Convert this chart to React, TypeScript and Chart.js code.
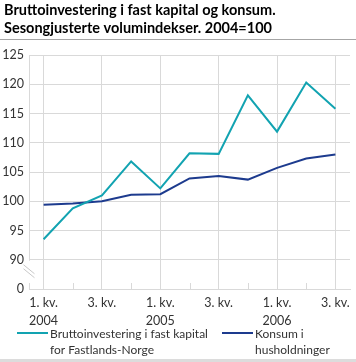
import React, { useEffect, useRef } from 'react';
import { Chart, registerables } from 'chart.js';

Chart.register(...registerables);

const categories = ['2004K1', '2004K2', '2004K3', '2004K4', '2005K1', '2005K2', '2005K3', '2005K4', '2006K1', '2006K2', '2006K3'];
const quarterLabels = ['1. kv.', '', '3. kv.', '', '1. kv.', '', '3. kv.', '', '1. kv.', '', '3. kv.'];
const yearLabels = ['2004', '', '', '', '2005', '', '', '', '2006', '', ''];
const brutto = [93.5, 98.8, 101.0, 106.8, 102.2, 108.2, 108.1, 118.1, 111.9, 120.3, 115.8];
const konsum = [99.4, 99.6, 100.0, 101.1, 101.2, 103.9, 104.3, 103.7, 105.7, 107.3, 108.0];
const titleLines = ['Bruttoinvestering i fast kapital og konsum.', 'Sesongjusterte volumindekser. 2004=100'];
const legendBrutto = ['Bruttoinvestering i fast kapital', 'for Fastlands-Norge'];
const legendKonsum = ['Konsum i', 'husholdninger'];
const yMin = 85;
const yMax = 125;
const yBreakLabel = '0';

const FONT = "Lato, 'Open Sans', sans-serif";
const TEAL = '#12a3b1';
const BLUE = '#1d3b8e';
const GRID = '#d9d9d9';
const TEXT = '#333333';

const decorPlugin = {
  id: 'decor',
  afterDraw(chart: any) {
    const { ctx, chartArea } = chart;
    const x = chart.scales.x;
    const y = chart.scales.y;
    ctx.save();
    // title
    ctx.fillStyle = '#000';
    ctx.font = `bold 14.5px ${FONT}`;
    ctx.textBaseline = 'middle';
    ctx.textAlign = 'left';
    ctx.fillText(titleLines[0], 4, 10);
    ctx.fillText(titleLines[1], 4, 28);
    // separator
    ctx.strokeStyle = '#a6a6a6';
    ctx.lineWidth = 1;
    ctx.beginPath();
    ctx.moveTo(0, 39.5);
    ctx.lineTo(356, 39.5);
    ctx.stroke();
    // bottom band
    ctx.fillStyle = '#dcdcdc';
    ctx.fillRect(0, 359, 356, 3);

    // y axis line with break
    const ax = Math.round(chartArea.left) + 0.5;
    const y90 = y.getPixelForValue(90);
    const y0 = y.getPixelForValue(yMin);
    ctx.strokeStyle = GRID;
    ctx.lineWidth = 1;
    ctx.beginPath();
    ctx.moveTo(ax, chartArea.top);
    ctx.lineTo(ax, y90 + 1);
    ctx.moveTo(ax, y0 - 6);
    ctx.lineTo(ax, y0);
    ctx.stroke();
    // break marks
    ctx.strokeStyle = '#c8c8c8';
    ctx.beginPath();
    ctx.moveTo(ax - 6, y90 + 5);
    ctx.lineTo(ax + 5, y90 + 14);
    ctx.moveTo(ax - 6, y90 + 9);
    ctx.lineTo(ax + 5, y90 + 18);
    ctx.stroke();

    // small ticks at unlabeled quarters
    ctx.strokeStyle = GRID;
    ctx.beginPath();
    for (let i = 0; i < categories.length; i++) {
      if (quarterLabels[i]) continue;
      const px = Math.round(x.getPixelForValue(i)) + 0.5;
      ctx.moveTo(px, y0);
      ctx.lineTo(px, y0 - 6);
    }
    ctx.stroke();

    // legend
    const drawItem = (lx: number, color: string, lines: string[]) => {
      ctx.strokeStyle = color;
      ctx.lineWidth = 2;
      ctx.beginPath();
      ctx.moveTo(lx, 333);
      ctx.lineTo(lx + 31, 333);
      ctx.stroke();
      ctx.fillStyle = TEXT;
      ctx.font = `12px ${FONT}`;
      ctx.textAlign = 'left';
      ctx.textBaseline = 'middle';
      ctx.fillText(lines[0], lx + 33, 334);
      ctx.fillText(lines[1], lx + 33, 350);
    };
    drawItem(17, TEAL, legendBrutto);
    drawItem(222, BLUE, legendKonsum);
    ctx.restore();
  },
};

export default function App() {
  const ref = useRef<HTMLCanvasElement>(null);
  useEffect(() => {
    if (!ref.current) return;
    const chart = new Chart(ref.current, {
      type: 'line',
      data: {
        labels: categories,
        datasets: [
          { label: legendBrutto.join(' '), data: brutto, borderColor: TEAL, borderWidth: 2, pointRadius: 0, tension: 0, fill: false },
          { label: legendKonsum.join(' '), data: konsum, borderColor: BLUE, borderWidth: 2, pointRadius: 0, tension: 0, fill: false },
        ],
      },
      options: {
        responsive: false,
        animation: false,
        devicePixelRatio: 1,
        layout: { padding: { top: 55, left: 0, right: 6, bottom: 0 } },
        plugins: { legend: { display: false }, title: { display: false }, tooltip: { enabled: false } },
        scales: {
          x: {
            type: 'category',
            offset: true,
            grid: {
              offset: false,
              drawTicks: false,
              color: (c: any) => (quarterLabels[c.index] ? GRID : 'rgba(0,0,0,0)'),
              lineWidth: 1,
            },
            border: { display: true, color: GRID, width: 1 },
            ticks: {
              autoSkip: false,
              maxRotation: 0,
              padding: 5,
              color: TEXT,
              font: { family: FONT, size: 12.5, lineHeight: 1.45 },
              callback: (_v: any, i: number) => (quarterLabels[i] ? [quarterLabels[i], yearLabels[i]] : ''),
            },
            afterFit: (s: any) => { s.height = 73; },
          },
          y: {
            min: yMin,
            max: yMax,
            grid: { drawTicks: false, color: GRID, lineWidth: 1 },
            border: { display: false },
            ticks: {
              stepSize: 5,
              padding: 5,
              color: TEXT,
              font: { family: FONT, size: 12.5 },
              callback: (v: any) => (v === yMin ? yBreakLabel : String(v)),
            },
            afterFit: (s: any) => { s.width = 29; },
          },
        },
      },
      plugins: [decorPlugin],
    });
    return () => chart.destroy();
  }, []);
  return (
    <div style={{ position: 'absolute', left: 0, top: 0, width: 356, height: 362, background: '#fff' }}>
      <canvas ref={ref} width={356} height={362} style={{ width: 356, height: 362, display: 'block' }} />
    </div>
  );
}
